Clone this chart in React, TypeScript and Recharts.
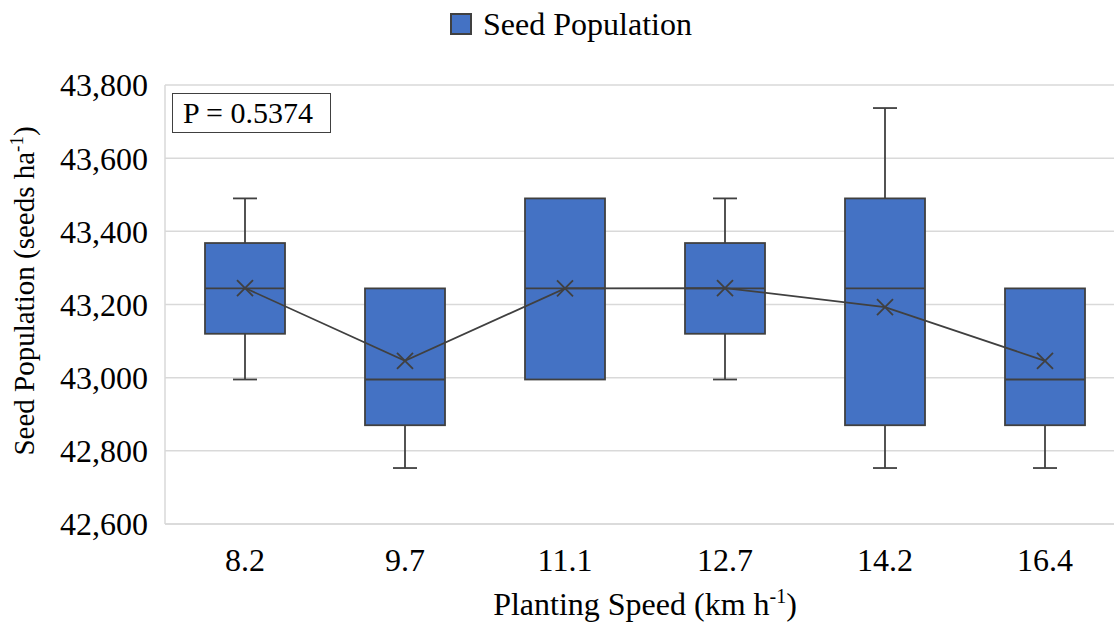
import React from 'react';
import { ComposedChart, Bar, Line, XAxis, YAxis, CartesianGrid, Legend } from 'recharts';

const categories = ['8.2', '9.7', '11.1', '12.7', '14.2', '16.4'];
const minValues = [42995, 42753, 42995, 42995, 42753, 42753];
const q1Values = [43120, 42870, 42995, 43120, 42870, 42870];
const medianValues = [43244, 42995, 43244, 43244, 43244, 42995];
const q3Values = [43368, 43244, 43490, 43368, 43490, 43244];
const maxValues = [43490, 43244, 43490, 43490, 43737, 43244];
const meanValues = [43245, 43046, 43244, 43245, 43193, 43046];
const yTicks = [42600, 42800, 43000, 43200, 43400, 43600, 43800];
const pValueText = 'P = 0.5374';

const data = categories.map((c, i) => ({
  speed: c,
  range: [minValues[i], maxValues[i]],
  min: minValues[i],
  q1: q1Values[i],
  median: medianValues[i],
  q3: q3Values[i],
  max: maxValues[i],
  mean: meanValues[i],
}));

const FONT = '"Liberation Serif", "Times New Roman", serif';
const BOX_FILL = '#4472C4';
const DARK = '#404040';
const GRID = '#d9d9d9';

const BoxShape = (props: any) => {
  const { x, y, width, height, payload } = props;
  if (!payload) return null;
  const { min, q1, median, q3, max } = payload;
  const span = max - min || 1;
  const toPx = (v: number) => y + ((max - v) * height) / span;
  const cx = x + width / 2;
  const cap = 12;
  const yMax = toPx(max);
  const yQ3 = toPx(q3);
  const yMed = toPx(median);
  const yQ1 = toPx(q1);
  const yMin = toPx(min);
  return (
    <g>
      {max > q3 && (
        <g>
          <line x1={cx} x2={cx} y1={yMax} y2={yQ3} stroke={DARK} strokeWidth={1.8} />
          <line x1={cx - cap} x2={cx + cap} y1={yMax} y2={yMax} stroke={DARK} strokeWidth={1.8} />
        </g>
      )}
      {min < q1 && (
        <g>
          <line x1={cx} x2={cx} y1={yQ1} y2={yMin} stroke={DARK} strokeWidth={1.8} />
          <line x1={cx - cap} x2={cx + cap} y1={yMin} y2={yMin} stroke={DARK} strokeWidth={1.8} />
        </g>
      )}
      <rect x={x} y={yQ3} width={width} height={yQ1 - yQ3} fill={BOX_FILL} stroke={DARK} strokeWidth={1.8} />
      <line x1={x} x2={x + width} y1={yMed} y2={yMed} stroke={DARK} strokeWidth={1.8} />
    </g>
  );
};

const MeanDot = (props: any) => {
  const { cx, cy, index } = props;
  if (cx == null || cy == null) return <g key={`m-${index}`} />;
  const s = 8;
  return (
    <path
      key={`m-${index}`}
      d={`M${cx - s},${cy - s}L${cx + s},${cy + s}M${cx - s},${cy + s}L${cx + s},${cy - s}`}
      stroke={DARK}
      strokeWidth={1.8}
      fill="none"
    />
  );
};

const LegendContent = () => (
  <div
    style={{
      display: 'flex',
      justifyContent: 'center',
      alignItems: 'flex-start',
      paddingLeft: 17,
      paddingTop: 5,
      height: 85,
      fontFamily: FONT,
      fontSize: 32,
      color: '#000',
      boxSizing: 'border-box',
    }}
  >
    <div style={{ display: 'flex', alignItems: 'center', height: 38 }}>
      <span
        style={{
          display: 'inline-block',
          width: 18,
          height: 18,
          background: BOX_FILL,
          border: `2px solid ${DARK}`,
          marginRight: 11,
        }}
      />
      <span>Seed Population</span>
    </div>
  </div>
);

const YLabel = () => (
  <text
    x={34}
    y={291}
    transform="rotate(-90, 34, 291)"
    textAnchor="middle"
    fontFamily={FONT}
    fontSize={29}
    fill="#000"
  >
    Seed Population (seeds ha
    <tspan dy={-11} fontSize={19}>-1</tspan>
    <tspan dy={11}>)</tspan>
  </text>
);

const XLabel = (props: any) => {
  const vb = props.viewBox || {};
  const cx = (vb.x ?? 165) + (vb.width ?? 960) / 2;
  return (
    <text x={cx} y={615} textAnchor="middle" fontFamily={FONT} fontSize={32} fill="#000">
      Planting Speed (km h
      <tspan dy={-12} fontSize={20}>-1</tspan>
      <tspan dy={12}>)</tspan>
    </text>
  );
};

export default function App() {
  return (
    <div
      style={{
        position: 'fixed',
        left: 0,
        top: 0,
        width: 1114,
        height: 632,
        overflow: 'hidden',
        background: '#fff',
      }}
    >
      <div style={{ position: 'relative', width: 1130, height: 632 }}>
        <ComposedChart
          width={1130}
          height={632}
          data={data}
          margin={{ top: 0, right: 5, bottom: 0, left: 0 }}
          barSize={80}
        >
          <Legend
            verticalAlign="top"
            align="center"
            content={<LegendContent />}
            wrapperStyle={{ height: 85 }}
          />
          <CartesianGrid vertical={false} stroke={GRID} strokeWidth={1.5} />
          <XAxis
            dataKey="speed"
            height={108}
            tickLine={false}
            tickSize={0}
            tickMargin={24}
            axisLine={{ stroke: GRID, strokeWidth: 1.5 }}
            tick={{ fontFamily: FONT, fontSize: 32, fill: '#000' }}
            label={<XLabel />}
          />
          <YAxis
            width={165}
            domain={[42600, 43800]}
            ticks={yTicks}
            interval={0}
            tickLine={false}
            tickSize={0}
            tickMargin={17}
            axisLine={{ stroke: GRID, strokeWidth: 1.5 }}
            tick={{ fontFamily: FONT, fontSize: 32, fill: '#000' }}
            tickFormatter={(v: number) => v.toLocaleString('en-US')}
            label={<YLabel />}
          />
          <Bar dataKey="range" shape={<BoxShape />} isAnimationActive={false} legendType="square" name="Seed Population" />
          <Line
            dataKey="mean"
            stroke={DARK}
            strokeWidth={1.8}
            dot={<MeanDot />}
            activeDot={false}
            legendType="none"
            isAnimationActive={false}
          />
        </ComposedChart>
        <div
          style={{
            position: 'absolute',
            left: 172,
            top: 93,
            width: 159,
            height: 40,
            border: `1.5px solid ${DARK}`,
            boxSizing: 'border-box',
            fontFamily: FONT,
            fontSize: 30,
            color: '#000',
            paddingLeft: 10,
            lineHeight: '37px',
          }}
        >
          {pValueText}
        </div>
      </div>
    </div>
  );
}
